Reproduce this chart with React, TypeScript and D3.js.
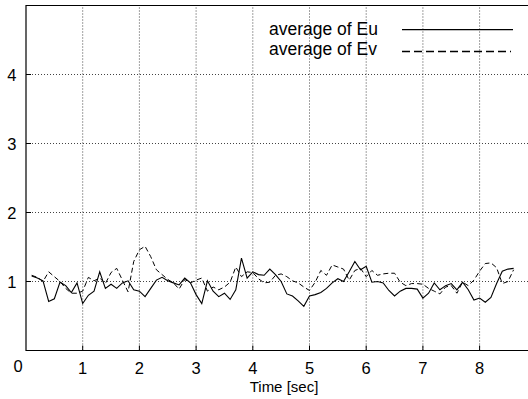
import * as d3 from "d3";

const times = [
  0.1, 0.2, 0.3, 0.4, 0.5, 0.6, 0.7, 0.8, 0.9, 1.0,
  1.1, 1.2, 1.3, 1.4, 1.5, 1.6, 1.7, 1.8, 1.9, 2.0,
  2.1, 2.2, 2.3, 2.4, 2.5, 2.6, 2.7, 2.8, 2.9, 3.0,
  3.1, 3.2, 3.3, 3.4, 3.5, 3.6, 3.7, 3.8, 3.9, 4.0,
  4.1, 4.2, 4.3, 4.4, 4.5, 4.6, 4.7, 4.8, 4.9, 5.0,
  5.1, 5.2, 5.3, 5.4, 5.5, 5.6, 5.7, 5.8, 5.9, 6.0,
  6.1, 6.2, 6.3, 6.4, 6.5, 6.6, 6.7, 6.8, 6.9, 7.0,
  7.1, 7.2, 7.3, 7.4, 7.5, 7.6, 7.7, 7.8, 7.9, 8.0,
  8.1, 8.2, 8.3, 8.4, 8.5, 8.6,
];

const avgEu = [
  1.08, 1.05, 1.01, 0.71, 0.75, 0.99, 0.94, 0.84, 0.98, 0.68,
  0.8, 0.86, 1.14, 0.9, 0.96, 0.9, 0.98, 1.01, 0.88, 0.86,
  0.78, 0.9, 1.02, 1.06, 1.01, 0.98, 0.95, 1.05, 0.98, 0.81,
  0.68, 1.01, 0.86, 0.78, 0.83, 0.74, 0.88, 1.34, 1.05, 1.14,
  1.1, 1.09, 1.18, 1.1, 1.0, 0.82, 0.79, 0.72, 0.64, 0.79,
  0.81, 0.84, 0.9, 0.98, 1.04, 1.0, 1.14, 1.29, 1.17, 1.22,
  0.99, 1.0, 0.98, 0.87, 0.79, 0.86, 0.9, 0.9, 0.89, 0.76,
  0.83, 0.98, 0.88, 0.94, 0.97, 0.88, 0.99, 0.88, 0.73, 0.76,
  0.7, 0.77, 0.97, 1.15, 1.18, 1.19,
];

const avgEv = [
  1.09, 1.06, 1.0, 1.14, 1.07, 1.0, 0.9, 0.83, 0.83, 0.86,
  1.06, 1.01, 1.05, 0.97, 1.13, 1.19, 1.02, 0.85, 1.29, 1.46,
  1.51, 1.36, 1.17, 1.1, 1.03, 0.98, 0.89, 1.03, 0.98, 1.02,
  1.05, 0.86, 0.92, 0.88, 0.92, 0.99, 1.21, 1.07, 1.14, 1.13,
  1.04, 0.98, 0.99, 1.09, 1.11, 1.07, 1.01, 0.98, 0.92, 0.87,
  0.99, 1.16, 1.09, 1.24, 1.21, 1.18, 1.02, 1.16, 1.19, 1.07,
  1.16, 1.09, 1.11, 1.12, 1.12, 0.99, 0.94, 0.97, 0.97, 0.96,
  0.9, 0.86, 0.82, 0.92, 0.94, 0.83, 0.99, 0.94, 1.02, 1.15,
  1.26, 1.27, 1.2, 0.97, 1.0, 1.17,
];

const xTicks = [1, 2, 3, 4, 5, 6, 7, 8];
const yTicks = [1, 2, 3, 4];
const legendLabels = ["average of Eu", "average of Ev"];

const W = 528;
const H = 399;
const font = "'Liberation Sans', Arial, Helvetica, sans-serif";

export default function App() {
  const x = d3.scaleLinear().domain([0, 9]).range([26, 536.3]);
  const y = d3.scaleLinear().domain([0, 5]).range([350.5, 5.5]);

  const line = d3
    .line<number>()
    .x((_, i) => x(times[i]))
    .y((d) => y(d));

  const left = x(0);
  const bottom = y(0);
  const top = y(5);

  return (
    <svg
      width={W}
      height={H}
      style={{ position: "absolute", left: 0, top: 0, background: "#fff" }}
    >
      {/* grid */}
      <g stroke="#444" strokeWidth={1} strokeDasharray="1,2">
        {xTicks.map((t) => (
          <line key={"gx" + t} x1={x(t)} x2={x(t)} y1={bottom} y2={top} />
        ))}
        {yTicks.map((t) => (
          <line key={"gy" + t} x1={left} x2={W} y1={y(t)} y2={y(t)} />
        ))}
      </g>

      {/* ticks */}
      <g stroke="#000" strokeWidth={1}>
        {xTicks.map((t) => (
          <line key={"tx" + t} x1={x(t)} x2={x(t)} y1={bottom} y2={bottom - 5} />
        ))}
        {yTicks.map((t) => (
          <line key={"ty" + t} x1={left} x2={left + 5} y1={y(t)} y2={y(t)} />
        ))}
      </g>

      {/* frame */}
      <path
        d={`M${W},${top}H${left}V${bottom}H${W}`}
        fill="none"
        stroke="#000"
        strokeWidth={1.2}
      />

      {/* data */}
      <path d={line(avgEu) || undefined} fill="none" stroke="#000" strokeWidth={1.1} />
      <path
        d={line(avgEv) || undefined}
        fill="none"
        stroke="#000"
        strokeWidth={1}
        strokeDasharray="5,3"
      />

      {/* tick labels */}
      <g fontFamily={font} fontSize={16.5} fill="#000">
        <text x={18} y={371.5} textAnchor="middle">0</text>
        {xTicks.map((t) => (
          <text key={"lx" + t} x={x(t)} y={374} textAnchor="middle">
            {t}
          </text>
        ))}
        {yTicks.map((t) => (
          <text key={"ly" + t} x={16.5} y={y(t) + 6} textAnchor="end">
            {t}
          </text>
        ))}
      </g>

      <text x={284} y={392} fontFamily={font} fontSize={15} textAnchor="middle">
        Time [sec]
      </text>

      {/* legend */}
      <g fontFamily={font} fontSize={17.5}>
        <text x={269} y={35}>{legendLabels[0]}</text>
        <text x={269} y={55}>{legendLabels[1]}</text>
        <line x1={402} x2={513} y1={29.7} y2={29.7} stroke="#000" strokeWidth={1.3} />
        <line
          x1={402}
          x2={511}
          y1={51.5}
          y2={51.5}
          stroke="#000"
          strokeWidth={1.3}
          strokeDasharray="8,4"
        />
      </g>
    </svg>
  );
}
